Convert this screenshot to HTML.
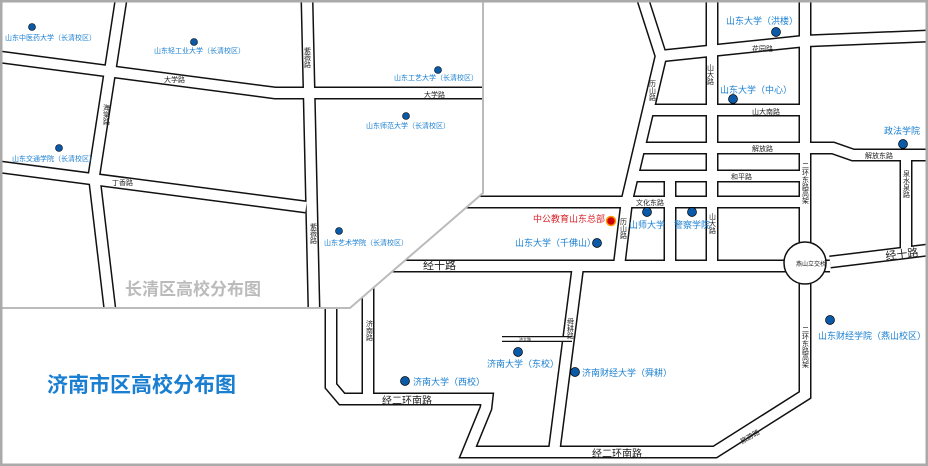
<!DOCTYPE html>
<html><head><meta charset="utf-8"><style>
html,body{margin:0;padding:0;background:#fff}
svg{display:block}
text{font-family:"Liberation Sans","Noto Sans CJK SC",sans-serif}
.b{fill:#1a7fd0;font-size:9px}
.bi{fill:#1a7fd0;font-size:7px}
.r{fill:#222;font-size:7px}
.rv{fill:#222;font-size:7px;writing-mode:tb}
</style></head><body>
<svg width="928" height="466" viewBox="0 0 928 466" xmlns="http://www.w3.org/2000/svg">
<defs>
<clipPath id="ins"><polygon points="0,0 483,0 483,193 350,308 0,308"/></clipPath>
<g id="mainroads" fill="none">
<polyline points="390,266 830,266"/>
<polyline points="830,262 928,250"/>
<polyline points="805,0 805,395 715,452 468,452 486,408 487,399 342,399 331,386 331,300"/>
<polyline points="368,266 368,399"/>
<polyline points="578,266 554,452"/>
<polyline points="643,0 661,56 627,200 619,266"/>
<polyline points="661,56 805,41 928,36"/>
<polyline points="712,0 712,266"/>
<polyline points="650,110 805,110"/>
<polyline points="642,148 833,148 853,155 928,155"/>
<polyline points="634,176 805,176"/>
<polyline points="455,202 805,202"/>
<polyline points="670,176 670,266"/>
<polyline points="906,155 906,250"/>
</g>
<g id="inroads" fill="none">
<polyline points="0,57 275,93 483,93"/>
<polyline points="0,167 306,207"/>
<polyline points="121,0 94,175 110,310"/>
<polyline points="307,0 314,310"/>
</g>
</defs>
<rect width="928" height="466" fill="#fff"/>
<use href="#mainroads" stroke="#111" stroke-width="13"/>
<use href="#mainroads" stroke="#fff" stroke-width="10"/>
<line x1="502" y1="339" x2="572" y2="339" stroke="#111" stroke-width="6"/>
<line x1="502" y1="339" x2="572" y2="339" stroke="#fff" stroke-width="3.5"/>
<circle cx="805" cy="263" r="21" fill="#fff" stroke="#111" stroke-width="1.5"/>
<polygon points="0,0 483,0 483,193 350,308 0,308" fill="#fff"/>
<g clip-path="url(#ins)">
<use href="#inroads" stroke="#111" stroke-width="13"/>
<use href="#inroads" stroke="#fff" stroke-width="10"/>
</g>
<polyline points="483,0 483,193 350,308 0,308" fill="none" stroke="#bbb" stroke-width="2"/>
<g fill="#0a5aa8" stroke="#000" stroke-width="0.6">
<circle cx="32" cy="27" r="3.5"/><circle cx="194" cy="42" r="3.5"/><circle cx="438" cy="70" r="3.5"/>
<circle cx="406" cy="116" r="3.5"/><circle cx="59" cy="148" r="3.5"/><circle cx="339" cy="231" r="3.5"/>
</g>
<text class="bi" x="5" y="40">山东中医药大学（长清校区）</text>
<text class="bi" x="154" y="53">山东轻工业大学（长清校区）</text>
<text class="bi" x="394" y="80">山东工艺大学（长清校区）</text>
<text class="bi" x="366" y="128">山东师范大学（长清校区）</text>
<text class="bi" x="12" y="161">山东交通学院（长清校区）</text>
<text class="bi" x="324" y="245">山东艺术学院（长清校区）</text>
<text x="125" y="295" fill="#bbb" font-size="17" font-weight="bold">长清区高校分布图</text>
<text class="r" x="164" y="82">大学路</text>
<text class="r" x="424" y="97">大学路</text>
<text class="r" x="112" y="185">丁香路</text>
<text class="rv" x="106" y="104">海棠路</text>
<text class="rv" x="307" y="47">紫薇路</text>
<text class="rv" x="313" y="223">紫薇路</text>
<text x="47" y="392" fill="#1a7fd0" font-size="21" font-weight="bold">济南市区高校分布图</text>
<g fill="#0a5aa8" stroke="#000" stroke-width="0.7">
<circle cx="776" cy="32" r="4.5"/><circle cx="733" cy="99" r="4.5"/><circle cx="903" cy="144" r="4.5"/>
<circle cx="647" cy="212" r="4.5"/><circle cx="692" cy="212" r="4.5"/><circle cx="597" cy="243" r="4.5"/>
<circle cx="518" cy="352" r="4.5"/><circle cx="575" cy="372" r="4.5"/><circle cx="405" cy="381" r="4.5"/>
<circle cx="830" cy="320" r="4.5"/>
</g>
<circle cx="611" cy="221" r="4.5" fill="#c00" stroke="#f90" stroke-width="1.5"/>
<text class="b" x="726" y="24">山东大学（洪楼）</text>
<text class="b" x="720" y="93">山东大学（中心）</text>
<text class="b" x="884" y="134">政法学院</text>
<text x="533" y="222" fill="#d8232a" font-size="9">中公教育山东总部</text>
<text class="b" x="629" y="228">山师大学</text>
<text class="b" x="674" y="228">警察学院</text>
<text class="b" x="515" y="246">山东大学（千佛山）</text>
<text class="b" x="487" y="367">济南大学（东校）</text>
<text class="b" x="582" y="376">济南财经大学（舜耕）</text>
<text class="b" x="413" y="385">济南大学（西校）</text>
<text class="b" x="818" y="339">山东财经学院（燕山校区）</text>
<text class="r" x="752" y="51">花园路</text>
<text class="r" x="752" y="114">山大南路</text>
<text class="r" x="752" y="151">解放路</text>
<text class="r" x="865" y="158">解放东路</text>
<text class="r" x="731" y="179">和平路</text>
<text class="r" x="636" y="205">文化东路</text>
<text class="rv" x="710" y="64">山大路</text>
<text class="rv" x="712" y="213">山大路</text>
<text class="rv" x="652" y="80">历山路</text>
<text class="rv" x="623" y="218">历山路</text>
<text class="rv" x="805" y="162">二环东路高架</text>
<text class="rv" x="805" y="326">二环东路高架</text>
<text class="rv" x="906" y="170">泉水泉路</text>
<text class="rv" x="369" y="320">济南路</text>
<text class="rv" x="570" y="318">舜耕路</text>
<text x="519" y="341" fill="#222" font-size="4">济大路</text>
<text x="796" y="266" fill="#222" font-size="6">燕山立交桥</text>
<text x="423" y="269" fill="#222" font-size="11">经十路</text>
<text x="886" y="260" fill="#222" font-size="11" transform="rotate(-7 886 260)">经十路</text>
<text x="382" y="404" fill="#222" font-size="10">经二环南路</text>
<text x="592" y="457" fill="#222" font-size="10">经二环南路</text>
<text x="742" y="444" fill="#222" font-size="7" transform="rotate(-30 742 444)">旅游路</text>
<rect x="1" y="1" width="926" height="464" fill="none" stroke="#aaa" stroke-width="3"/>
</svg>
</body></html>
